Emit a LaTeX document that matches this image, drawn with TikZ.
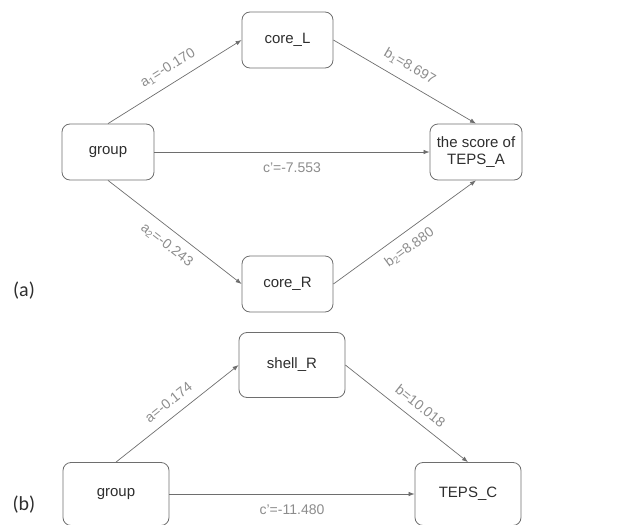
\documentclass[tikz,border=0pt]{standalone}
\usepackage{fontspec}
\setmainfont{Liberation Sans}
\newfontfamily\panelfont{Carlito}
\usetikzlibrary{arrows.meta}
\definecolor{boxline}{HTML}{6E6E6E}
\definecolor{boxtext}{HTML}{2E2E2E}
\definecolor{coef}{HTML}{8C8C8C}
\tikzset{
  var/.style={draw=boxline, rounded corners=8pt, text=boxtext, font=\fontsize{15}{17}\selectfont,
    align=center, inner sep=0pt, line width=0.8pt},
  path/.style={draw=boxline, line width=0.7pt, -{Latex[length=6pt,width=4.5pt]}},
  coeflab/.style={text=coef, font=\fontsize{14}{16}\selectfont, sloped, inner sep=2pt},
  panel/.style={font=\panelfont\fontsize{20}{22}\selectfont, text=boxtext},
}
\begin{document}
\begin{tikzpicture}[x=1pt,y=1pt]
 \useasboundingbox (0,0) rectangle (641,-525);
 % (a) two mediators
 \node[var, minimum width=92pt, minimum height=56pt] (groupA) at (108,-152) {group};
 \node[var, minimum width=91pt, minimum height=56pt] (coreL)  at (287.5,-40) {core\_L};
 \node[var, minimum width=91pt, minimum height=56pt] (coreR)  at (287.5,-284) {core\_R};
 \node[var, minimum width=92pt, minimum height=56pt] (tepsA)  at (476,-152) {the score of\\TEPS\_A};
 \draw[path] (groupA.north) -- (coreL.west) node[coeflab, pos=0.51, above=7pt] {a\textsubscript{1}=-0.170};
 \draw[path] (coreL.east) -- (tepsA.north) node[coeflab, pos=0.48, above=7pt] {b\textsubscript{1}=8.697};
 \draw[path] (groupA.south) -- (coreR.west) node[coeflab, pos=0.51, below=7pt] {a\textsubscript{2}=-0.243};
 \draw[path] (coreR.east) -- (tepsA.south) node[coeflab, pos=0.47, below=7pt] {b\textsubscript{2}=8.880};
 \draw[path] (groupA.east) -- (tepsA.west) node[coeflab, midway, below=8pt] {c'=-7.553};
 \node[panel] (labA) at (24,-291) {(a)};
 % (b) one mediator
 \node[var, minimum width=106pt, minimum height=63pt] (groupB) at (116,-494) {group};
 \node[var, minimum width=106pt, minimum height=65pt] (shellR) at (292,-365) {shell\_R};
 \node[var, minimum width=106pt, minimum height=63pt] (tepsC)  at (468,-494) {TEPS\_C};
 \draw[path] (groupB.north) -- (shellR.west) node[coeflab, pos=0.5, above=7pt] {a=-0.174};
 \draw[path] (shellR.east) -- (tepsC.north) node[coeflab, pos=0.54, above=7pt] {b=10.018};
 \draw[path] (groupB.east) -- (tepsC.west) node[coeflab, midway, below=8pt] {c'=-11.480};
 \node[panel] (labB) at (24,-505) {(b)};
\end{tikzpicture}
\end{document}
